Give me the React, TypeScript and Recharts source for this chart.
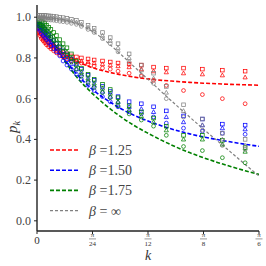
import React from 'react';
import { ComposedChart, Scatter, Line, XAxis, YAxis } from 'recharts';

// k positions (in units of pi/24)
const K = [0.02, 0.05, 0.08, 0.11, 0.14, 0.17, 0.21, 0.25, 0.30, 0.35, 0.41, 0.47, 0.54, 0.62, 0.71, 0.80, 0.92, 1.03, 1.18, 1.32, 1.46, 1.66, 1.88, 2.10, 2.33, 2.64, 2.98, 3.34, 3.75];

const RED_SQ = [0.945, 0.93, 0.92, 0.91, 0.90, 0.89, 0.88, 0.87, 0.86, 0.85, 0.84, 0.83, 0.82, 0.81, 0.805, 0.80, 0.795, 0.79, 0.785, 0.78, 0.775, 0.77, 0.765, 0.755, 0.75, 0.75, 0.745, 0.74, 0.735];
const RED_TRI = [0.935, 0.92, 0.905, 0.895, 0.885, 0.875, 0.865, 0.855, 0.845, 0.835, 0.825, 0.815, 0.805, 0.795, 0.79, 0.785, 0.78, 0.775, 0.77, 0.765, 0.76, 0.755, 0.745, 0.735, 0.73, 0.725, 0.72, 0.715, 0.705];
const RED_CIR = [0.925, 0.91, 0.895, 0.885, 0.875, 0.865, 0.855, 0.845, 0.835, 0.825, 0.815, 0.805, 0.795, 0.785, 0.78, 0.775, 0.77, 0.76, 0.75, 0.745, 0.735, 0.725, 0.71, 0.69, 0.665, 0.64, 0.62, 0.60, 0.575];

const BLUE_SQ = [0.975, 0.965, 0.96, 0.95, 0.94, 0.93, 0.915, 0.90, 0.885, 0.87, 0.855, 0.835, 0.815, 0.795, 0.77, 0.745, 0.715, 0.69, 0.66, 0.635, 0.61, 0.585, 0.575, 0.56, 0.54, 0.515, 0.50, 0.475, 0.47];
const BLUE_TRI = [0.96, 0.95, 0.94, 0.93, 0.92, 0.91, 0.895, 0.88, 0.865, 0.85, 0.83, 0.81, 0.79, 0.77, 0.745, 0.72, 0.69, 0.665, 0.635, 0.61, 0.585, 0.56, 0.55, 0.535, 0.51, 0.485, 0.47, 0.455, 0.45];
const BLUE_CIR = [0.945, 0.935, 0.92, 0.91, 0.90, 0.89, 0.875, 0.86, 0.845, 0.83, 0.81, 0.785, 0.765, 0.745, 0.72, 0.695, 0.665, 0.64, 0.61, 0.585, 0.56, 0.535, 0.525, 0.51, 0.48, 0.455, 0.44, 0.43, 0.425];

const GREEN_SQ = [0.99, 0.985, 0.98, 0.975, 0.97, 0.96, 0.95, 0.94, 0.925, 0.91, 0.89, 0.87, 0.85, 0.82, 0.785, 0.75, 0.72, 0.695, 0.67, 0.645, 0.605, 0.565, 0.535, 0.505, 0.465, 0.42, 0.42, 0.395, 0.36];
const GREEN_TRI = [0.975, 0.97, 0.96, 0.955, 0.95, 0.94, 0.93, 0.92, 0.905, 0.89, 0.87, 0.85, 0.83, 0.80, 0.765, 0.73, 0.70, 0.675, 0.65, 0.625, 0.585, 0.545, 0.515, 0.485, 0.445, 0.40, 0.40, 0.375, 0.34];
const GREEN_CIR = [0.96, 0.955, 0.945, 0.935, 0.93, 0.92, 0.91, 0.90, 0.885, 0.87, 0.85, 0.83, 0.81, 0.78, 0.745, 0.71, 0.68, 0.655, 0.63, 0.605, 0.565, 0.525, 0.495, 0.465, 0.42, 0.365, 0.345, 0.31, 0.285];

const GRAY_SQ = [1.01, 1.01, 1.01, 1.01, 1.01, 1.008, 1.007, 1.006, 1.005, 1.003, 1.0, 0.998, 0.995, 0.99, 0.985, 0.975, 0.96, 0.945, 0.925, 0.90, 0.87, 0.82, 0.765, 0.725, 0.66, 0.57, 0.50, 0.43, 0.40];
const GRAY_TRI = [1.0, 1.0, 1.0, 1.0, 1.0, 0.998, 0.997, 0.996, 0.995, 0.993, 0.99, 0.988, 0.985, 0.98, 0.975, 0.965, 0.95, 0.935, 0.91, 0.885, 0.85, 0.80, 0.74, 0.70, 0.63, 0.54, 0.47, 0.40, 0.37];
const GRAY_CIR = [0.99, 0.99, 0.99, 0.99, 0.99, 0.988, 0.987, 0.986, 0.985, 0.983, 0.98, 0.978, 0.975, 0.97, 0.965, 0.955, 0.94, 0.925, 0.895, 0.87, 0.83, 0.78, 0.715, 0.675, 0.60, 0.51, 0.445, 0.37, 0.35];

// fitted dashed curves
const CURVE_K = [0, 0.1, 0.2, 0.3, 0.5, 0.75, 1, 1.25, 1.5, 1.75, 2, 2.25, 2.5, 2.75, 3, 3.25, 3.5, 3.75, 4];
const RED_FIT = [0.96, 0.925, 0.895, 0.865, 0.82, 0.78, 0.752, 0.733, 0.718, 0.706, 0.697, 0.69, 0.685, 0.68, 0.676, 0.673, 0.67, 0.668, 0.666];
const BLUE_FIT = [0.97, 0.93, 0.89, 0.855, 0.79, 0.71, 0.645, 0.595, 0.553, 0.518, 0.49, 0.466, 0.445, 0.427, 0.412, 0.399, 0.387, 0.376, 0.366];
const GREEN_FIT = [0.98, 0.95, 0.915, 0.875, 0.785, 0.695, 0.625, 0.565, 0.513, 0.468, 0.43, 0.395, 0.363, 0.335, 0.31, 0.287, 0.266, 0.246, 0.228];
const GRAY_FIT = [1.0, 1.0, 0.998, 0.995, 0.985, 0.965, 0.93, 0.88, 0.82, 0.757, 0.695, 0.632, 0.57, 0.51, 0.45, 0.393, 0.335, 0.277, 0.22];

const X_TICKS = [0, 1, 2, 3, 4];
const X_TICK_NUM = ['0', 'π', 'π', 'π', 'π'];
const X_TICK_DEN = ['', '24', '12', '8', '6'];
const Y_TICKS = [0, 0.2, 0.4, 0.6, 0.8, 1.0];
const LEGEND_LABELS = ['β =1.25', 'β =1.50', 'β =1.75', 'β = ∞'];

const RED = '#ff0000';
const BLUE = '#0000ff';
const GREEN = '#008000';
const GRAY = '#808080';
const FONT = '"Liberation Serif", "DejaVu Serif", serif';

const pts = (ys: number[]) => K.map((x, i) => ({ x, y: ys[i] }));
const curve = (ys: number[]) => CURVE_K.map((x, i) => ({ x, y: ys[i] }));

const makeShape = (kind: string, color: string) => (props: any) => {
  const { cx, cy } = props;
  if (cx == null || cy == null) return <g />;
  const sw = 0.75;
  if (kind === 'circle') return <circle cx={cx} cy={cy} r={1.9} fill="none" stroke={color} strokeWidth={sw} />;
  if (kind === 'square') return <rect x={cx - 1.8} y={cy - 1.8} width={3.6} height={3.6} fill="none" stroke={color} strokeWidth={sw} />;
  return (
    <path d={`M${cx},${cy - 2.2}L${cx + 2.1},${cy + 1.6}L${cx - 2.1},${cy + 1.6}Z`} fill="none" stroke={color} strokeWidth={sw} />
  );
};

const XTick = (props: any) => {
  const { x, payload } = props;
  const i = X_TICKS.indexOf(payload.value);
  const base = 231;
  if (i === 0) {
    return (
      <text x={x} y={base + 13} textAnchor="middle" fontFamily={FONT} fontSize={11} fill="#333">0</text>
    );
  }
  return (
    <g>
      <text x={x} y={base + 5.8} textAnchor="middle" fontFamily={FONT} fontSize={7} fill="#333">{X_TICK_NUM[i]}</text>
      <line x1={x - 3.5} x2={x + 3.5} y1={base + 7.9} y2={base + 7.9} stroke="#333" strokeWidth={0.5} />
      <text x={x} y={base + 14.6} textAnchor="middle" fontFamily={FONT} fontSize={7} fill="#333">{X_TICK_DEN[i]}</text>
    </g>
  );
};

const YTick = (props: any) => {
  const { x, y, payload } = props;
  return (
    <text x={x} y={y + 4} textAnchor="end" fontFamily={FONT} fontSize={12} fill="#444">{payload.value.toFixed(1)}</text>
  );
};

const series = [
  { color: RED, sets: [RED_CIR, RED_SQ, RED_TRI] },
  { color: BLUE, sets: [BLUE_CIR, BLUE_SQ, BLUE_TRI] },
  { color: GREEN, sets: [GREEN_CIR, GREEN_SQ, GREEN_TRI] },
  { color: GRAY, sets: [GRAY_CIR, GRAY_SQ, GRAY_TRI] },
];
const kinds = ['circle', 'square', 'triangle'];

const fits = [
  { color: RED, ys: RED_FIT, dash: '4 2', w: 1.6 },
  { color: BLUE, ys: BLUE_FIT, dash: '4 2', w: 1.6 },
  { color: GREEN, ys: GREEN_FIT, dash: '4 2', w: 1.6 },
  { color: GRAY, ys: GRAY_FIT, dash: '3 2', w: 1.2 },
];

export default function App() {
  return (
    <div style={{ position: 'absolute', left: 0, top: 0, width: 266, height: 266, background: '#fff' }}>
      <ComposedChart width={266} height={266} margin={{ top: 5, right: 7, bottom: 0, left: 1 }}>
        <XAxis
          type="number"
          dataKey="x"
          domain={[0, 4]}
          ticks={X_TICKS}
          tick={<XTick />}
          tickSize={3}
          tickMargin={0}
          height={35}
          allowDataOverflow
          axisLine={{ stroke: '#222', strokeWidth: 1.4 }}
          tickLine={{ stroke: '#222' }}
        />
        <XAxis xAxisId="top" orientation="top" type="number" domain={[0, 4]} height={0} tick={false} tickLine={false} axisLine={{ stroke: '#222', strokeWidth: 1.2 }} />
        <YAxis
          type="number"
          dataKey="y"
          domain={[-0.05, 1.06]}
          ticks={Y_TICKS}
          tick={<YTick />}
          tickSize={3}
          tickMargin={3}
          width={36}
          allowDataOverflow
          axisLine={{ stroke: '#222', strokeWidth: 1.4 }}
          tickLine={{ stroke: '#222' }}
        />
        <YAxis yAxisId="right" orientation="right" type="number" domain={[-0.05, 1.06]} width={0} tick={false} tickLine={false} axisLine={{ stroke: '#222', strokeWidth: 1.4 }} />
        {series.map((s, si) =>
          s.sets.map((ys, ki) => (
            <Scatter
              key={`s${si}${ki}`}
              data={pts(ys)}
              dataKey="y"
              shape={makeShape(kinds[ki], s.color)}
              isAnimationActive={false}
            />
          ))
        )}
        {fits.map((f, i) => (
          <Line
            key={`f${i}`}
            data={curve(f.ys)}
            dataKey="y"
            type="monotone"
            stroke={f.color}
            strokeWidth={f.w}
            strokeDasharray={f.dash}
            dot={false}
            activeDot={false}
            isAnimationActive={false}
          />
        ))}
      </ComposedChart>
      <svg width={266} height={266} style={{ position: 'absolute', left: 0, top: 0, pointerEvents: 'none' }}>
        {fits.map((f, i) => {
          const y = 150 + i * 20.2;
          return (
            <g key={`l${i}`}>
              <line x1={50} x2={78} y1={y} y2={y} stroke={f.color} strokeWidth={f.w} strokeDasharray={f.dash} />
              <text x={89} y={y + 5} fontFamily={FONT} fontSize={14} fill="#444">
                <tspan fontStyle="italic">{LEGEND_LABELS[i].slice(0, 1)}</tspan>
                <tspan>{LEGEND_LABELS[i].slice(1)}</tspan>
              </text>
            </g>
          );
        })}
        <text x={148} y={260} textAnchor="middle" fontFamily={FONT} fontStyle="italic" fontSize={14} fill="#333">k</text>
        <text transform="translate(17,127) rotate(-90)" textAnchor="middle" fontFamily={FONT} fontSize={15} fill="#333">
          <tspan fontStyle="italic">p</tspan>
          <tspan fontStyle="italic" fontSize={10} dy={3}>k</tspan>
        </text>
      </svg>
    </div>
  );
}
